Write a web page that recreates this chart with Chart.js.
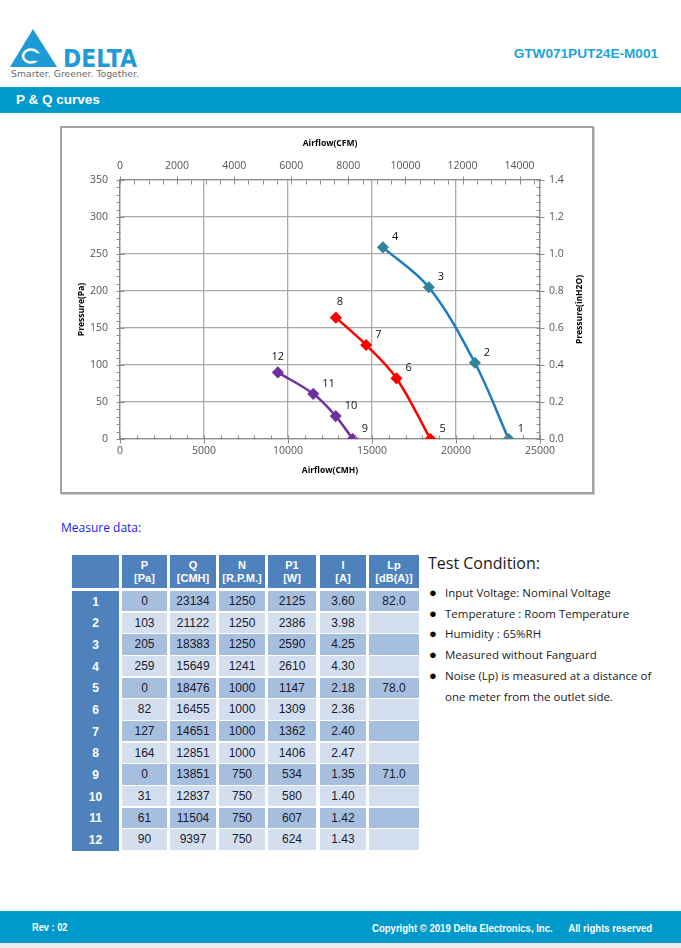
<!DOCTYPE html>
<html><head><meta charset="utf-8">
<script src="https://cdn.jsdelivr.net/npm/chart.js@4/dist/chart.umd.min.js"></script>
<style>
body{margin:0;width:681px;height:948px;position:relative;background:#fff;overflow:hidden;font-family:"Liberation Sans",Arial,sans-serif;}
.abs{position:absolute;}
.cell{position:absolute;display:flex;align-items:center;justify-content:center;font-size:12px;color:#1a1a2e;box-sizing:border-box;}
.hd{color:#fff;font-weight:bold;font-size:11px;line-height:13px;text-align:center;flex-direction:column;}
.idx{color:#fff;font-weight:bold;}
.tc{position:absolute;left:428px;font-family:"Open Sans","Noto Sans",sans-serif;color:#1a1a1a;}
.bl{position:absolute;left:429px;font-family:"Open Sans","Noto Sans",sans-serif;font-size:11.5px;color:#1a1a1a;white-space:nowrap;}
.bl span.dot{position:absolute;left:0;top:-2px;font-size:13px;color:#000;}
.bl span.tx{position:absolute;left:16px;}
</style></head><body>

<!-- logo -->
<svg class="abs" style="left:0;top:20px" width="160" height="65" viewBox="0 0 160 65">
  <polygon points="33,9 57,47 10,47" fill="#1e9bd7"/>
  <ellipse cx="31" cy="36" rx="8" ry="6.5" fill="none" stroke="#fff" stroke-width="2.6"/>
  <circle cx="37" cy="37" r="4" fill="#1e9bd7"/>
  <text x="63" y="47" font-family="DejaVu Sans, sans-serif" font-weight="bold" font-size="24" fill="#1e9bd7" textLength="74" lengthAdjust="spacingAndGlyphs">DELTA</text>
  <text x="11" y="57" font-family="DejaVu Sans, sans-serif" font-size="8.3" fill="#6b6b6b" textLength="128" lengthAdjust="spacingAndGlyphs">Smarter.  Greener.  Together.</text>
</svg>
<div class="abs" style="right:23px;top:46px;font-weight:bold;font-size:13.6px;color:#1ca3dc;">GTW071PUT24E-M001</div>

<div class="abs" style="left:0;top:87px;width:681px;height:26px;background:#0099cc;"></div>
<div class="abs" style="left:16px;top:92px;font-weight:bold;font-size:13.5px;color:#fff;">P &amp; Q curves</div>

<!-- chart box -->
<div class="abs" style="left:60px;top:126px;width:534px;height:368px;border:2px solid #a3a3a3;box-sizing:border-box;box-shadow:1px 1px 0 #cfcfcf;">
  <canvas id="c" width="530" height="364" style="width:530px;height:364px;display:block;"></canvas>
</div>

<div class="abs" style="left:61px;top:519px;font-family:'Open Sans','Noto Sans',sans-serif;font-size:12px;color:#1a1af0;">Measure data:</div>

<div id="tbl"></div>

<div class="tc" style="top:552px;font-size:16px;">Test Condition:</div>
<div id="bul"></div>

<div class="abs" style="left:0;top:911px;width:681px;height:32px;background:#0099cc;"></div>
<div class="abs" style="left:0;top:943px;width:681px;height:5px;background:#ececec;"></div>
<div class="abs" style="left:32px;top:921px;font-weight:bold;font-size:10.5px;color:#fff;transform:scaleX(0.88);transform-origin:left top;">Rev : 02</div>
<div class="abs" style="left:372px;top:922px;font-weight:bold;font-size:10.5px;color:#fff;white-space:pre;transform:scaleX(0.91);transform-origin:left top;">Copyright © 2019 Delta Electronics, Inc.      All rights reserved</div>

<script>
// ---------- data ----------
const pointNo    = [1,2,3,4,5,6,7,8,9,10,11,12];
const pressurePa = [0,103,205,259,0,82,127,164,0,31,61,90];
const airflowCMH = [23134,21122,18383,15649,18476,16455,14651,12851,13851,12837,11504,9397];
const speedRPM   = [1250,1250,1250,1241,1000,1000,1000,1000,750,750,750,750];
const powerW     = [2125,2386,2590,2610,1147,1309,1362,1406,534,580,607,624];
const currentA   = ['3.60','3.98','4.25','4.30','2.18','2.36','2.40','2.47','1.35','1.40','1.42','1.43'];
const noiseLp    = ['82.0','','','','78.0','','','','71.0','','',''];
const curveGroups = [[0,1,2,3],[4,5,6,7],[8,9,10,11]];
const headerTop  = ['P','Q','N','P1','I','Lp'];
const headerUnit = ['[Pa]','[CMH]','[R.P.M.]','[W]','[A]','[dB(A)]'];
const cmhTicks   = [0,5000,10000,15000,20000,25000];
const cfmTicks   = [0,2000,4000,6000,8000,10000,12000,14000];
const paTicks    = [0,50,100,150,200,250,300,350];
const inTicks    = [0,0.2,0.4,0.6,0.8,1.0,1.2,1.4];
const labelAbove = [8,12];
const conditions = ['Input Voltage: Nominal Voltage','Temperature : Room Temperature','Humidity : 65%RH','Measured without Fanguard','Noise (Lp) is measured at a distance of','one meter from the outlet side.'];

// ---------- table ----------
const colX = [72,122,170,219,268,320,369];
const colW = [47,45,46,46,48,46,50];
const tbl = document.getElementById('tbl');
function cell(x,y,w,h,bg,cls,html){const d=document.createElement('div');d.className='cell '+cls;d.style.cssText=`left:${x}px;top:${y}px;width:${w}px;height:${h}px;background:${bg};`;d.innerHTML=html;tbl.appendChild(d);}
cell(colX[0],555,colW[0],33,'#4f81bd','hd','');
headerTop.forEach((t,i)=>cell(colX[i+1],555,colW[i+1],33,'#4f81bd','hd',`<div>${t}</div><div>${headerUnit[i]}</div>`));
pointNo.forEach((n,r)=>{
  const y = 591 + r*21.67, h = 20.2;
  const bg = r%2===0 ? '#a7bfde' : '#d3dfee';
  cell(colX[0],y,colW[0],h+1.4,'#4f81bd','idx',n);
  const vals=[pressurePa[r],airflowCMH[r],speedRPM[r],powerW[r],currentA[r],noiseLp[r]];
  vals.forEach((v,i)=>cell(colX[i+1],y,colW[i+1],h,bg,'',v));
});
const bul=document.getElementById('bul');
conditions.forEach((t,i)=>{const d=document.createElement('div');d.className='bl';d.style.top=(585+i*20.7)+'px';d.innerHTML=(i<5?'<span class="dot">●</span>':'')+`<span class="tx">${t}</span>`;bul.appendChild(d);});

// ---------- chart ----------
const CMH_PER_CFM = 1.699;
const curveColors = [{line:'#1a7bc4',pt:'#31849b'},{line:'#ff0000',pt:'#ff0000'},{line:'#7030a0',pt:'#7030a0'}];
const datasets = curveGroups.map((g,k)=>({
  data: g.map(i=>({x:airflowCMH[i],y:pressurePa[i],n:pointNo[i]})),
  borderColor: curveColors[k].line, backgroundColor: curveColors[k].pt,
  pointBackgroundColor: curveColors[k].pt, pointBorderColor: curveColors[k].pt,
  pointStyle:'rectRot', pointRadius:4.3, borderWidth:2.5, tension:0.35, xAxisID:'x', yAxisID:'y'
}));
const tickFont = {family:'"Open Sans","Noto Sans",sans-serif', size:10.5};
const titleFont = {family:'"Open Sans","Noto Sans",sans-serif', size:8.5, weight:'bold'};
const tickColor = '#555';
const gridColor = '#a9a9a9';
const axisColor = '#8c8c8c';

const minorPlugin = {
  id:'minor',
  afterDraw(chart){
    const c=chart.ctx, a=chart.chartArea, s=chart.scales;
    c.save(); c.strokeStyle=axisColor; c.lineWidth=1;
    const L=4;
    function ln(x1,y1,x2,y2){c.beginPath();c.moveTo(Math.round(x1)+0.5,Math.round(y1)+0.5);c.lineTo(Math.round(x2)+0.5,Math.round(y2)+0.5);c.stroke();}
    for(let v=0; v<=25000; v+=1000){const p=s.x.getPixelForValue(v); if(v%5000===0) ln(p,a.bottom-L,p,a.bottom+L); else ln(p,a.bottom-L,p,a.bottom);}
    for(let v=0; v<=14500; v+=500){const p=s.x2.getPixelForValue(v); if(v%2000===0) ln(p,a.top-L,p,a.top+L); else ln(p,a.top,p,a.top+L);}
    for(let v=0; v<=350; v+=10){const p=s.y.getPixelForValue(v); if(v%50===0) ln(a.left-L,p,a.left+L,p); else ln(a.left-L,p,a.left,p);}
    for(let k=0; k<=35; k++){const v=k*0.04; const p=s.y2.getPixelForValue(v); if(k%5===0) ln(a.right-L,p,a.right+L,p); else ln(a.right-L,p,a.right,p);}
    // right axis title, reading bottom-to-top like the left one
    c.save();
    c.translate(s.y2.right-12, (a.top+a.bottom)/2);
    c.rotate(-Math.PI/2);
    c.font='bold 8.5px "Open Sans","Noto Sans",sans-serif'; c.fillStyle='#000'; c.textAlign='center'; c.textBaseline='middle';
    c.fillText('Pressure(inH2O)',0,0);
    c.restore();
    c.restore();
  }
};
const labelPlugin = {
  id:'ptlabels',
  afterDatasetsDraw(chart){
    const c=chart.ctx; c.save();
    c.font='11px "Open Sans","Noto Sans",sans-serif'; c.fillStyle='#111'; c.textBaseline='middle';
    chart.data.datasets.forEach((ds,di)=>{
      const meta=chart.getDatasetMeta(di);
      meta.data.forEach((el,j)=>{
        const n=ds.data[j].n;
        if(labelAbove.includes(n)){c.textAlign='center'; c.fillText(n, el.x+(n===8?4:0), el.y-16);}
        else {c.textAlign='left'; c.fillText(n, el.x+9, el.y-10);}
      });
    });
    c.restore();
  }
};
function fixed(prop,val){return s=>{s[prop]=val;};}
const plain = v=>String(v);
new Chart(document.getElementById('c'),{
  type:'line',
  data:{datasets},
  plugins:[minorPlugin,labelPlugin],
  options:{
    responsive:false, animation:false, devicePixelRatio:1,
    layout:{padding:0},
    plugins:{legend:{display:false},tooltip:{enabled:false}},
    scales:{
      x:{type:'linear',position:'bottom',min:0,max:25000,
        afterBuildTicks:s=>{s.ticks=cmhTicks.map(v=>({value:v}));},
        ticks:{font:tickFont,color:tickColor,padding:6,maxRotation:0,autoSkip:false,callback:plain},
        grid:{color:gridColor,lineWidth:1.3,drawTicks:false},
        border:{color:axisColor,width:1.3},
        title:{display:true,text:'Airflow(CMH)',font:titleFont,color:'#000',padding:{top:0,bottom:16.5}},
        afterFit:fixed('height',53)},
      x2:{type:'linear',position:'top',min:0,max:25000/CMH_PER_CFM,
        afterBuildTicks:s=>{s.ticks=cfmTicks.map(v=>({value:v}));},
        ticks:{font:tickFont,color:tickColor,padding:8,maxRotation:0,autoSkip:false,callback:plain},
        grid:{drawOnChartArea:false,drawTicks:false},
        border:{color:axisColor,width:1.3},
        title:{display:true,text:'Airflow(CFM)',font:titleFont,color:'#000',padding:{top:10.5,bottom:0}},
        afterFit:fixed('height',52)},
      y:{type:'linear',position:'left',min:0,max:350,
        afterBuildTicks:s=>{s.ticks=paTicks.map(v=>({value:v}));},
        ticks:{font:tickFont,color:tickColor,padding:12,autoSkip:false,callback:plain},
        grid:{color:gridColor,lineWidth:1.3,drawTicks:false},
        border:{color:axisColor,width:1.3},
        title:{display:true,text:'Pressure(Pa)',font:titleFont,color:'#000',padding:{top:14.5,bottom:0}},
        afterFit:fixed('width',58)},
      y2:{type:'linear',position:'right',min:0,max:1.4,
        afterBuildTicks:s=>{s.ticks=inTicks.map(v=>({value:v}));},
        ticks:{font:tickFont,color:tickColor,padding:9,autoSkip:false,callback:v=>Number(v).toFixed(1)},
        grid:{drawOnChartArea:false,drawTicks:false},
        border:{color:axisColor,width:1.3},
        title:{display:false},
        afterFit:fixed('width',52)}
    }
  }
});
</script>
</body></html>
